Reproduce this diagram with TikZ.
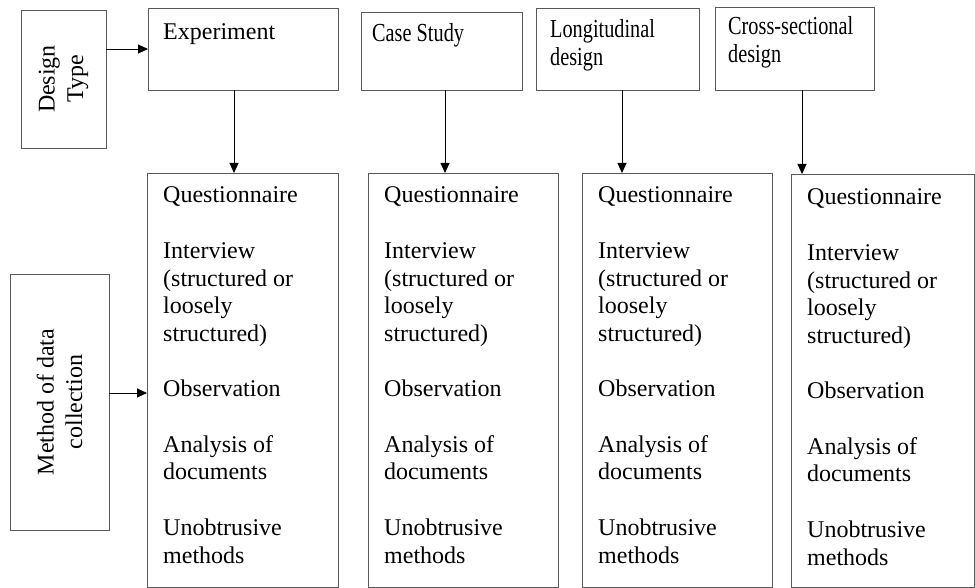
\documentclass[tikz,border=0pt]{standalone}
\usepackage{fontspec}
\setmainfont{Liberation Serif}
\usetikzlibrary{arrows.meta,calc}
\newcommand\txtcol[1]{\begin{tabular}[t]{@{}l@{}}#1\end{tabular}}
\newcommand\narrow[1]{\scalebox{0.78}[1]{\fontsize{26}{27.5}\selectfont\txtcol{#1}}}
\begin{document}
\begin{tikzpicture}[x=1pt,y=-1pt,
  box/.style={draw=black!65, line width=0.9pt, inner sep=0pt, outer sep=0pt},
  txt/.style={anchor=base west, inner sep=0pt, font=\fontsize{24}{27.7}\selectfont},
  rtxt/.style={rotate=90, align=center, inner sep=0pt, font=\fontsize{24}{28.5}\selectfont},
  arr/.style={draw=black, line width=0.9pt, -{Triangle[length=10pt,width=9pt]}}]
\useasboundingbox (0,0) rectangle (975,588);
% side boxes
\node[box, minimum width=85pt, minimum height=138pt] (dt) at (63.5,79) {};
\node[box, minimum width=99pt, minimum height=256pt] (meth) at (59.5,402) {};
\node[rtxt] (dtt) at (dt) {Design\\Type};
\node[rtxt] (metht) at (meth) {Method of data\\collection};
% design type boxes
\node[box, minimum width=190pt, minimum height=82pt] (exp) at (243,49) {};
\node[box, minimum width=161pt, minimum height=78pt] (cs) at (441.5,51) {};
\node[box, minimum width=163pt, minimum height=82pt] (lon) at (617.5,49) {};
\node[box, minimum width=159pt, minimum height=83pt] (cross) at (794.5,48.5) {};
\node[txt] (expt) at (163,40) {\txtcol{Experiment}};
\node[txt] (cst) at (372,42) {\narrow{Case Study}};
\node[txt] (lont) at (550,38) {\narrow{Longitudinal\\design}};
\node[txt] (crosst) at (728,35) {\narrow{Cross-sectional\\design}};
% method boxes
\node[box, minimum width=191pt, minimum height=414pt] (q1) at (242.5,380) {};
\node[box, minimum width=190pt, minimum height=414pt] (q2) at (463,380) {};
\node[box, minimum width=190pt, minimum height=414pt] (q3) at (677,380) {};
\node[box, minimum width=183pt, minimum height=413pt] (q4) at (882.5,380.5) {};
\newcommand\methods{\txtcol{Questionnaire\\ \\Interview\\(structured or\\loosely\\structured)\\ \\Observation\\ \\Analysis of\\documents\\ \\Unobtrusive\\methods}}
\node[txt] (q1t) at (163,203) {\methods};
\node[txt] (q2t) at (384,203) {\methods};
\node[txt] (q3t) at (598,203) {\methods};
\node[txt] (q4t) at (807,205) {\methods};
% connectors
\draw[arr] (dt.east |- exp.west) -- (exp.west);
\draw[arr] ([yshift=9pt]meth.east) -- ([yshift=9pt]meth.east -| q1.west);
\draw[arr] ([xshift=-9pt]exp.south) -- ([xshift=-9pt]exp.south |- q1.north);
\draw[arr] ([xshift=3.5pt]cs.south) -- ([xshift=3.5pt]cs.south |- q2.north);
\draw[arr] ([xshift=4.5pt]lon.south) -- ([xshift=4.5pt]lon.south |- q3.north);
\draw[arr] ([xshift=7.5pt]cross.south) -- ([xshift=7.5pt]cross.south |- q4.north);
\end{tikzpicture}
\end{document}
